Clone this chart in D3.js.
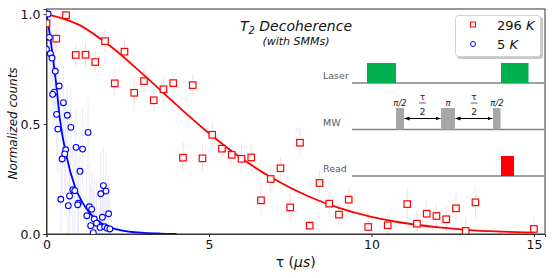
<!DOCTYPE html>
<html>
<head>
<meta charset="utf-8">
<script src="https://cdn.jsdelivr.net/npm/d3@7"></script>
<style>
  html, body { margin: 0; padding: 0; background: #fff; }
  svg { display: block; }
  text { font-family: "DejaVu Sans", sans-serif; }
</style>
</head>
<body>
<svg id="chart" width="555" height="278"></svg>
<script>
// ---------------- data ----------------
const redT = [0, 0.3, 0.6, 0.9, 1.2, 1.5, 1.8, 2.1, 2.4, 2.7, 3.0, 3.3, 3.6, 3.9, 4.2, 4.5, 4.8, 5.1, 5.4, 5.7, 6.0, 6.3, 6.6, 6.9, 7.2, 7.5, 7.8, 8.1, 8.4, 8.7, 9.0, 9.3, 9.9, 10.5, 11.1, 11.4, 11.7, 12.0, 12.3, 12.6, 12.9, 13.2, 15.0];
const redY = [0.958, 0.888, 0.995, 0.814, 0.815, 0.782, 0.877, 0.685, 0.829, 0.642, 0.695, 0.608, 0.658, 0.686, 0.347, 0.677, 0.344, 0.451, 0.388, 0.36, 0.342, 0.348, 0.153, 0.25, 0.299, 0.121, 0.415, 0.038, 0.232, 0.138, 0.088, 0.156, 0.032, 0.04, 0.136, 0.047, 0.092, 0.082, 0.067, 0.117, 0.014, 0.144, 0.023];
const redErr = [0.05, 0.06, 0.05, 0.05, 0.06, 0.05, 0.05, 0.06, 0.05, 0.07, 0.06, 0.05, 0.06, 0.05, 0.07, 0.05, 0.06, 0.06, 0.05, 0.05, 0.06, 0.06, 0.07, 0.06, 0.05, 0.06, 0.06, 0.05, 0.06, 0.06, 0.05, 0.06, 0.06, 0.05, 0.07, 0.06, 0.06, 0.06, 0.06, 0.06, 0.06, 0.07, 0.06];

const blueT = [0.05, 0.09, 0.0, 0.12, 0.17, 0.27, 0.39, 0.24, 0.19, 0.52, 0.31, 0.64, 0.35, 0.75, 1.28, 0.59, 0.91, 1.11, 0.56, 0.48, 1.03, 1.75, 1.67, 1.83, 0.81, 0.87, 0.44, 0.71, 0.67, 0.98, 0.96, 1.32, 1.39, 1.24, 1.47, 1.72, 1.91, 1.54, 1.36, 1.65, 1.79, 1.87, 1.95, 1.44];
const blueY = [1.0, 0.894, 0.84, 0.82, 0.80, 0.74, 0.673, 0.645, 0.635, 0.597, 0.544, 0.54, 0.477, 0.485, 0.462, 0.383, 0.394, 0.386, 0.364, 0.341, 0.285, 0.22, 0.183, 0.195, 0.201, 0.197, 0.158, 0.173, 0.129, 0.14, 0.133, 0.124, 0.112, 0.083, 0.068, 0.076, 0.092, 0.049, 0.038, 0.03, 0.033, 0.026, 0.023, 0.006];
const blueErr = [0.12, 0.15, 0.14, 0.16, 0.13, 0.17, 0.15, 0.18, 0.16, 0.17, 0.19, 0.15, 0.2, 0.18, 0.16, 0.2, 0.17, 0.19, 0.18, 0.21, 0.2, 0.18, 0.19, 0.17, 0.21, 0.2, 0.22, 0.19, 0.2, 0.21, 0.18, 0.19, 0.17, 0.2, 0.18, 0.16, 0.17, 0.19, 0.18, 0.17, 0.16, 0.15, 0.14, 0.2];

// fit curves
const redFitT = [0, 1, 2, 3, 4, 5, 6, 7, 8, 9, 10, 11, 12, 13, 14, 15];
const redFitY = [1.0, 0.951, 0.85, 0.722, 0.587, 0.458, 0.344, 0.25, 0.175, 0.119, 0.078, 0.05, 0.031, 0.018, 0.011, 0.006];
const blueFitT = [0, 0.1, 0.2, 0.3, 0.415, 0.62, 0.877, 1.1, 1.34, 1.7, 2.26, 3.0, 3.5, 4.0];
const blueFitY = [1.0, 0.91, 0.80, 0.68, 0.52, 0.351, 0.215, 0.145, 0.094, 0.048, 0.018, 0.005, 0.002, 0.001];

const xTicks = [0, 5, 10, 15];
const yTicks = [0, 0.5, 1.0];
const legendLabels = ["296", "5"];

// ---------------- chart ----------------
const svg = d3.select("#chart");
const L = 46.5, R = 545, T = 9, B = 234;
const x = d3.scaleLinear().domain([0, 15.34]).range([L, R]);
const y = d3.scaleLinear().domain([0, 1.023]).range([B, T]);

const defs = svg.append("defs");
defs.append("clipPath").attr("id", "plotclip").append("rect")
  .attr("x", L).attr("y", T).attr("width", R - L).attr("height", B - T);

// frame
svg.append("rect").attr("x", L).attr("y", T).attr("width", R - L).attr("height", B - T)
  .attr("fill", "none").attr("stroke", "#333").attr("stroke-width", 1);

// axes
const xAxis = svg.append("g").attr("transform", `translate(0,${B})`)
  .call(d3.axisBottom(x).tickValues(xTicks).tickSize(3).tickPadding(3).tickFormat(d3.format("d")));
const yAxis = svg.append("g").attr("transform", `translate(${L},0)`)
  .call(d3.axisLeft(y).tickValues(yTicks).tickSize(3).tickPadding(3).tickFormat(d3.format(".1f")));
[xAxis, yAxis].forEach(g => {
  g.select(".domain").attr("stroke", "#333");
  g.selectAll(".tick line").attr("stroke", "#333");
  g.selectAll(".tick text").attr("font-family", "DejaVu Sans").attr("font-size", 12.5).attr("fill", "#111");
});

// axis labels
svg.append("text").attr("transform", `translate(17,${(T + B) / 2 + 2}) rotate(-90)`)
  .attr("text-anchor", "middle").attr("font-size", 12).attr("font-style", "italic")
  .attr("fill", "#111").text("Normalized counts");
const xl = svg.append("text").attr("x", (L + R) / 2).attr("y", 267)
  .attr("text-anchor", "middle").attr("font-size", 14).attr("fill", "#111");
xl.append("tspan").text("τ (");
xl.append("tspan").attr("font-style", "italic").text("μs");
xl.append("tspan").text(")");

// title
const tt = svg.append("text").attr("x", 296).attr("y", 31).attr("text-anchor", "middle")
  .attr("font-size", 14).attr("font-style", "italic").attr("fill", "#111");
tt.append("tspan").text("T");
tt.append("tspan").attr("font-size", 10).attr("dy", 3).text("2");
tt.append("tspan").attr("dy", -3).text(" Decoherence");
svg.append("text").attr("x", 296).attr("y", 45).attr("text-anchor", "middle")
  .attr("font-size", 11).attr("font-style", "italic").attr("fill", "#111").text("(with SMMs)");

// ---------------- pulse diagram ----------------
const pd = svg.append("g");
const lineX0 = 352, lineX1 = 544;
const rows = [
  { label: "Laser", base: 83 },
  { label: "MW", base: 129.5 },
  { label: "Read", base: 176 }
];
rows.forEach(r => {
  pd.append("line").attr("x1", lineX0).attr("x2", lineX1).attr("y1", r.base).attr("y2", r.base)
    .attr("stroke", "#808080").attr("stroke-width", 1.3);
  pd.append("text").attr("x", 323).attr("y", r.base - 4).attr("font-family", "Open Sans")
    .attr("font-size", 9.5).attr("fill", "#595959").text(r.label);
});
const pulses = [
  { x0: 367, x1: 396, top: 63, base: 83, c: "#00b050" },
  { x0: 501, x1: 528.5, top: 63, base: 83, c: "#00b050" },
  { x0: 396, x1: 404, top: 108, base: 129.5, c: "#a6a6a6" },
  { x0: 441, x1: 455, top: 108, base: 129.5, c: "#a6a6a6" },
  { x0: 493, x1: 500.5, top: 108, base: 129.5, c: "#a6a6a6" },
  { x0: 501, x1: 514, top: 156, base: 176, c: "#ff0000" }
];
pd.selectAll("rect.pulse").data(pulses).enter().append("rect")
  .attr("x", d => d.x0).attr("y", d => d.top).attr("width", d => d.x1 - d.x0)
  .attr("height", d => d.base - d.top).attr("fill", d => d.c);

defs.append("marker").attr("id", "ah").attr("viewBox", "0 0 10 10").attr("refX", 10).attr("refY", 5)
  .attr("markerWidth", 5).attr("markerHeight", 5).attr("orient", "auto-start-reverse")
  .append("path").attr("d", "M0,1 L10,5 L0,9 Z").attr("fill", "#000");
[[404.5, 440.5], [455.5, 492.5]].forEach(([a, b]) => {
  pd.append("line").attr("x1", a).attr("x2", b).attr("y1", 118.5).attr("y2", 118.5)
    .attr("stroke", "#000").attr("stroke-width", 1)
    .attr("marker-start", "url(#ah)").attr("marker-end", "url(#ah)");
  const cx = (a + b) / 2;
  pd.append("text").attr("x", cx).attr("y", 99.5).attr("text-anchor", "middle")
    .attr("font-family", "DejaVu Serif").attr("font-size", 9).attr("fill", "#222").text("τ");
  pd.append("line").attr("x1", cx - 3.5).attr("x2", cx + 3.5).attr("y1", 103).attr("y2", 103)
    .attr("stroke", "#222").attr("stroke-width", 0.7);
  pd.append("text").attr("x", cx).attr("y", 114.5).attr("text-anchor", "middle")
    .attr("font-family", "DejaVu Serif").attr("font-size", 9).attr("fill", "#222").text("2");
});
[[400, "π/2"], [448, "π"], [497, "π/2"]].forEach(([cx, s]) => {
  pd.append("text").attr("x", cx).attr("y", 105.5).attr("text-anchor", "middle")
    .attr("font-family", "DejaVu Serif").attr("font-style", "italic").attr("font-size", 8.5)
    .attr("fill", "#222").text(s);
});

// ---------------- data marks ----------------
const plot = svg.append("g").attr("clip-path", "url(#plotclip)");
const redData = redT.map((t, i) => ({ t, v: redY[i], e: redErr[i] }));
const blueData = blueT.map((t, i) => ({ t, v: blueY[i], e: blueErr[i] }));

plot.selectAll("line.be").data(blueData).enter().append("line")
  .attr("x1", d => x(d.t)).attr("x2", d => x(d.t))
  .attr("y1", d => y(d.v - d.e)).attr("y2", d => y(d.v + d.e))
  .attr("stroke", "rgba(60,60,255,0.10)").attr("stroke-width", 1);
plot.selectAll("line.re").data(redData).enter().append("line")
  .attr("x1", d => x(d.t)).attr("x2", d => x(d.t))
  .attr("y1", d => y(d.v - d.e)).attr("y2", d => y(d.v + d.e))
  .attr("stroke", "rgba(255,60,60,0.18)").attr("stroke-width", 1);

const line = d3.line().x(d => x(d[0])).y(d => y(d[1])).curve(d3.curveMonotoneX);
plot.append("path").datum(redFitT.map((t, i) => [t, redFitY[i]]))
  .attr("d", line).attr("fill", "none").attr("stroke", "#ff0000").attr("stroke-width", 1.8);
plot.append("path").datum(blueFitT.map((t, i) => [t, blueFitY[i]]))
  .attr("d", line).attr("fill", "none").attr("stroke", "#0000ff").attr("stroke-width", 1.8);

const sq = 6.5;
plot.selectAll("rect.rp").data(redData).enter().append("rect")
  .attr("x", d => x(d.t) - sq / 2).attr("y", d => y(d.v) - sq / 2)
  .attr("width", sq).attr("height", sq)
  .attr("fill", "#fff").attr("stroke", "#ff0000").attr("stroke-width", 1.2);
plot.selectAll("circle.bp").data(blueData).enter().append("circle")
  .attr("cx", d => x(d.t)).attr("cy", d => y(d.v)).attr("r", 2.9)
  .attr("fill", "#fff").attr("stroke", "#0000ff").attr("stroke-width", 1.1);

// ---------------- legend ----------------
const lg = svg.append("g");
lg.append("rect").attr("x", 457).attr("y", 17).attr("width", 86).attr("height", 42).attr("rx", 3)
  .attr("fill", "#c8c8c8");
lg.append("rect").attr("x", 455.5).attr("y", 15.5).attr("width", 85).attr("height", 41).attr("rx", 3)
  .attr("fill", "#fff").attr("stroke", "#d0d0d0").attr("stroke-width", 1);
lg.append("rect").attr("x", 470.5).attr("y", 22).attr("width", 5).attr("height", 5)
  .attr("fill", "#fff").attr("stroke", "#ff0000").attr("stroke-width", 1);
lg.append("circle").attr("cx", 473).attr("cy", 44).attr("r", 2.5)
  .attr("fill", "#fff").attr("stroke", "#0000ff").attr("stroke-width", 1);
legendLabels.forEach((s, i) => {
  const t = lg.append("text").attr("x", 497).attr("y", 30 + i * 19).attr("font-size", 13).attr("fill", "#111");
  t.append("tspan").text(s + " ");
  t.append("tspan").attr("font-style", "italic").text("K");
});
</script>
</body>
</html>
